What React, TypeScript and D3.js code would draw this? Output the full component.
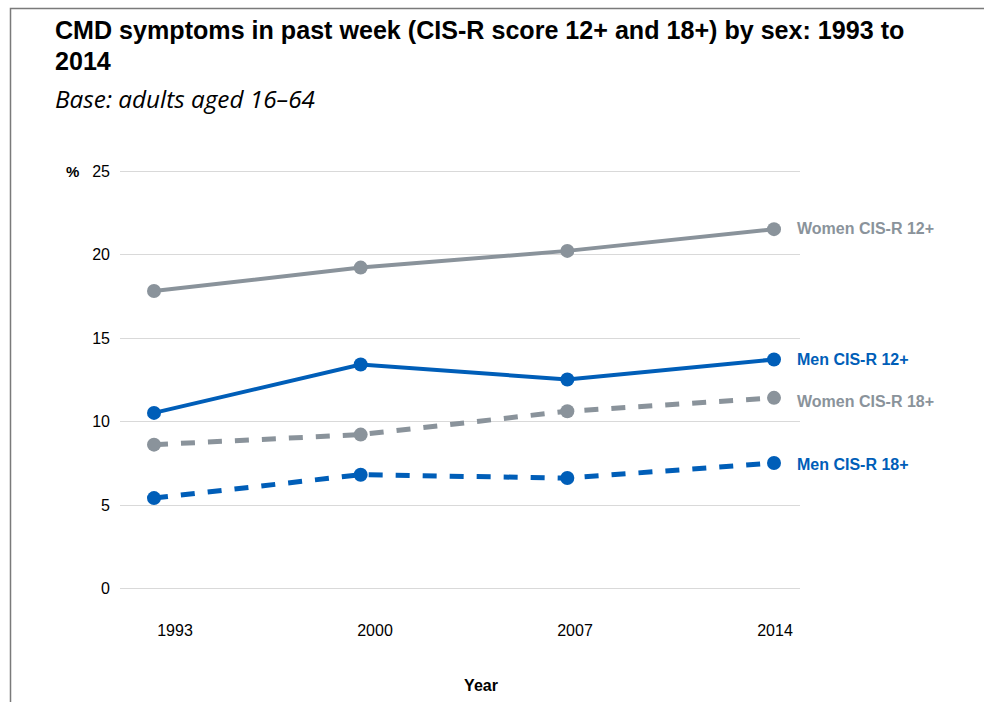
import * as React from 'react'
import { useEffect, useRef } from 'react'
import * as d3 from 'd3'

const years = ['1993', '2000', '2007', '2014']
const yTicks = [0, 5, 10, 15, 20, 25]

const women12 = [17.8, 19.2, 20.2, 21.5]
const men12 = [10.5, 13.4, 12.5, 13.7]
const women18 = [8.6, 9.2, 10.6, 11.4]
const men18 = [5.4, 6.8, 6.6, 7.5]

const seriesNames = ['Women CIS-R 12+', 'Men CIS-R 12+', 'Women CIS-R 18+', 'Men CIS-R 18+']

const GREY = '#8a939b'
const BLUE = '#005eb8'

const App = () => {
  const chartRef = useRef<SVGSVGElement>(null)
  const width = 984
  const height = 702

  useEffect(() => {
    const svg = d3.select(chartRef.current)
    svg.selectAll('*').remove()

    const series = [
      { name: seriesNames[0], values: women12, color: GREY, dashed: false, labelDy: 0 },
      { name: seriesNames[1], values: men12, color: BLUE, dashed: false, labelDy: 1 },
      { name: seriesNames[2], values: women18, color: GREY, dashed: true, labelDy: 4 },
      { name: seriesNames[3], values: men18, color: BLUE, dashed: true, labelDy: 2 },
    ]

    const xScale = d3.scalePoint<string>().domain(years).range([154, 774])
    const xLabelScale = d3.scalePoint<string>().domain(years).range([175, 775])
    const yScale = d3.scaleLinear().domain([0, 25]).range([588.3, 170.7])

    // frame
    svg.append('path')
      .attr('d', `M10.5,${height} L10.5,8.5 L${width},8.5`)
      .attr('fill', 'none')
      .attr('stroke', '#7a7a7a')
      .attr('stroke-width', 1.5)

    // title
    const title = svg.append('text')
      .style('font-family', '"Liberation Sans", Arial, sans-serif')
      .style('font-weight', 'bold')
      .style('font-size', '25.1px')
      .attr('fill', '#000')
    title.append('tspan').attr('x', 55).attr('y', 39).text('CMD symptoms in past week (CIS-R score 12+ and 18+) by sex: 1993 to')
    title.append('tspan').attr('x', 55).attr('y', 70).text('2014')

    svg.append('text')
      .attr('x', 55)
      .attr('y', 108)
      .style('font-family', '"Open Sans", sans-serif')
      .style('font-style', 'italic')
      .style('font-size', '24.3px')
      .attr('fill', '#000')
      .text('Base: adults aged 16–64')

    // grid
    svg.append('g')
      .selectAll('line')
      .data(yTicks)
      .enter()
      .append('line')
      .attr('x1', 120)
      .attr('x2', 800)
      .attr('y1', d => Math.round(yScale(d)) + 0.5)
      .attr('y2', d => Math.round(yScale(d)) + 0.5)
      .attr('stroke', '#d9d9d9')
      .attr('stroke-width', 1)

    svg.append('g')
      .selectAll('text')
      .data(yTicks)
      .enter()
      .append('text')
      .attr('x', 110)
      .attr('y', d => yScale(d) + 6)
      .attr('text-anchor', 'end')
      .style('font-family', '"Liberation Sans", Arial, sans-serif')
      .style('font-size', '16px')
      .attr('fill', '#000')
      .text(d => d)

    svg.append('text')
      .attr('x', 66)
      .attr('y', yScale(25) + 6)
      .style('font-family', '"Liberation Sans", Arial, sans-serif')
      .style('font-size', '15px')
      .style('font-weight', 'bold')
      .text('%')

    svg.append('g')
      .selectAll('text')
      .data(years)
      .enter()
      .append('text')
      .attr('x', d => xLabelScale(d) as number)
      .attr('y', 636)
      .attr('text-anchor', 'middle')
      .style('font-family', '"Liberation Sans", Arial, sans-serif')
      .style('font-size', '16px')
      .attr('fill', '#000')
      .text(d => d)

    svg.append('text')
      .attr('x', 481)
      .attr('y', 691)
      .attr('text-anchor', 'middle')
      .style('font-family', '"Liberation Sans", Arial, sans-serif')
      .style('font-size', '16px')
      .style('font-weight', 'bold')
      .text('Year')

    const line = d3.line<number>()
      .x((d, i) => xScale(years[i]) as number)
      .y(d => yScale(d))

    series.forEach(s => {
      svg.append('path')
        .datum(s.values)
        .attr('d', line)
        .attr('fill', 'none')
        .attr('stroke', s.color)
        .attr('stroke-width', s.dashed ? 5 : 4)
        .attr('stroke-dasharray', s.dashed ? '14,13' : null)

      svg.append('g')
        .selectAll('circle')
        .data(s.values)
        .enter()
        .append('circle')
        .attr('cx', (d, i) => xScale(years[i]) as number)
        .attr('cy', d => yScale(d))
        .attr('r', 7)
        .attr('fill', s.color)

      svg.append('text')
        .attr('x', 797)
        .attr('y', yScale(s.values[s.values.length - 1]) + s.labelDy + 5)
        .style('font-family', '"Liberation Sans", Arial, sans-serif')
        .style('font-size', '16px')
        .style('font-weight', 'bold')
        .attr('fill', s.color)
        .text(s.name)
    })
  }, [])

  return (
    <div style={{ position: 'absolute', left: 0, top: 0, background: '#fff' }}>
      <svg ref={chartRef} width={width} height={height} style={{ display: 'block' }}></svg>
    </div>
  )
}

export default App
